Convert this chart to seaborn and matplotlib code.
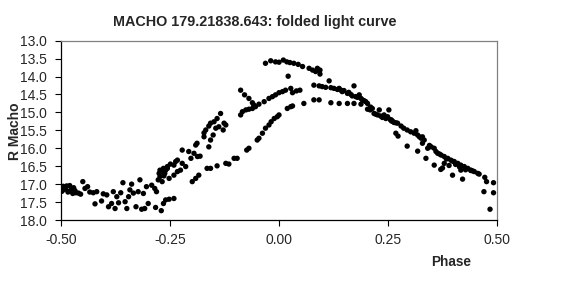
import matplotlib
matplotlib.use("Agg")
import matplotlib.pyplot as plt
import seaborn as sns
import pandas as pd

sns.set_theme(style="white")
plt.rcParams['font.family'] = ['Liberation Sans', 'DejaVu Sans']

title = "MACHO 179.21838.643: folded light curve"
x_label = "Phase"
y_label = "R Macho"
x_ticks = [-0.50, -0.25, 0.00, 0.25, 0.50]
y_ticks = [13.0, 13.5, 14.0, 14.5, 15.0, 15.5, 16.0, 16.5, 17.0, 17.5, 18.0]

# left flat region
phase_a = [-0.500, -0.498, -0.495, -0.490, -0.487, -0.484, -0.480, -0.477, -0.473, -0.471, -0.466,
           -0.460, -0.450, -0.445, -0.439, -0.434, -0.426, -0.418, -0.422, -0.407, -0.403, -0.395,
           -0.391, -0.384, -0.380, -0.376, -0.372, -0.368, -0.363, -0.358, -0.353, -0.349, -0.345,
           -0.342, -0.338, -0.334, -0.328, -0.323, -0.319, -0.315, -0.311, -0.308, -0.304, -0.300,
           -0.292, -0.285, -0.281, -0.277, -0.273, -0.269, -0.265, -0.262, -0.256, -0.497, -0.493,
           -0.482, -0.468, -0.455]
mag_a = [17.12, 17.20, 17.06, 17.14, 17.05, 17.22, 17.04, 17.16, 17.26, 17.10, 17.24,
         17.25, 16.93, 17.12, 17.07, 17.22, 17.24, 17.21, 17.55, 17.47, 17.27, 17.30,
         17.63, 17.54, 17.21, 17.68, 17.35, 17.52, 17.24, 16.96, 17.49, 17.68, 17.35,
         17.16, 17.00, 17.25, 17.63, 17.21, 16.88, 17.70, 17.26, 17.68, 17.07, 17.54,
         17.03, 17.12, 17.21, 16.88, 16.79, 16.65, 16.56, 16.70, 16.51, 17.18, 17.10,
         17.20, 17.18, 17.28]

# lower-left outliers
phase_b = [-0.265, -0.260, -0.252, -0.241, -0.270, -0.283]
mag_b = [17.54, 17.44, 17.42, 17.40, 17.74, 17.65]

# upper rising branch
phase_c = [-0.088, -0.079, -0.069, -0.061, -0.058, -0.134, -0.142, -0.149, -0.157, -0.161,
           -0.168, -0.172, -0.188, -0.191, -0.207, -0.222, -0.233, -0.237, -0.241, -0.249,
           -0.256, -0.260]
mag_c = [14.38, 14.51, 14.61, 14.73, 14.79, 15.03, 15.17, 15.26, 15.30, 15.38,
         15.49, 15.57, 15.86, 15.91, 16.09, 16.05, 16.33, 16.37, 16.47, 16.44,
         16.56, 16.61]

# scattered rising points
phase_d = [-0.126, -0.122, -0.128, -0.138, -0.145, -0.151, -0.157, -0.161, -0.172, -0.181,
           -0.187, -0.195, -0.202, -0.214, -0.222, -0.226, -0.233, -0.241, -0.252, -0.264,
           -0.268, -0.275, -0.273]
mag_d = [15.30, 15.35, 15.49, 15.40, 15.44, 15.63, 15.77, 15.96, 15.68, 16.22,
         16.23, 16.14, 16.28, 16.51, 16.42, 16.61, 16.65, 16.75, 16.84, 16.77,
         16.93, 16.70, 16.61]

# lower rising branch
phase_e = [-0.199, -0.191, -0.184, -0.165, -0.157, -0.142, -0.122, -0.115, -0.103, -0.096,
           -0.074, -0.069, -0.050, -0.046, -0.038, -0.031, -0.023, -0.018, -0.011, -0.004,
           0.000, 0.019, 0.027, 0.031, 0.057, 0.080, 0.092, 0.119, 0.138, 0.157, 0.172]
mag_e = [16.93, 16.84, 16.75, 16.56, 16.56, 16.49, 16.42, 16.44, 16.28, 16.28,
         16.05, 16.00, 15.77, 15.72, 15.58, 15.44, 15.35, 15.26, 15.17, 15.12,
         15.07, 14.89, 14.84, 14.82, 14.75, 14.65, 14.65, 14.73, 14.75, 14.75, 14.75]

# middle branch
phase_f = [-0.088, -0.084, -0.076, -0.069, -0.061, -0.054, -0.046, -0.034, -0.023, -0.015,
           -0.008, 0.000, 0.008, 0.015, 0.027, 0.031, 0.040, 0.048]
mag_f = [15.07, 14.98, 14.93, 14.91, 14.89, 14.84, 14.77, 14.70, 14.61, 14.56,
         14.51, 14.45, 14.42, 14.38, 14.33, 14.45, 14.40, 14.38]

# top arc
phase_g = [-0.031, -0.019, -0.008, 0.000, 0.010, 0.018, 0.025, 0.034, 0.044, 0.054,
           0.069, 0.077, 0.084, 0.088, 0.094, 0.094, 0.021]
mag_g = [13.63, 13.56, 13.59, 13.60, 13.54, 13.59, 13.61, 13.63, 13.66, 13.72,
         13.77, 13.82, 13.86, 13.77, 13.82, 13.93, 13.99]

# descending branch
phase_h = [0.080, 0.092, 0.099, 0.107, 0.115, 0.119, 0.126, 0.134, 0.138, 0.142,
           0.149, 0.157, 0.165, 0.172, 0.168, 0.176, 0.184, 0.188, 0.191, 0.195,
           0.199, 0.203, 0.188, 0.203, 0.209, 0.214, 0.218, 0.226, 0.230, 0.233,
           0.237, 0.241, 0.245, 0.249, 0.252, 0.255, 0.258, 0.262, 0.268, 0.272,
           0.268, 0.273, 0.286, 0.294, 0.302, 0.310, 0.314, 0.318, 0.322, 0.326,
           0.329, 0.333, 0.294, 0.318, 0.337, 0.341, 0.349, 0.356, 0.360, 0.364,
           0.372, 0.379, 0.387, 0.394, 0.402, 0.410, 0.417, 0.425, 0.433, 0.440,
           0.448, 0.456, 0.459, 0.329, 0.145, 0.160, 0.180, 0.210, 0.222, 0.258,
           0.264, 0.280, 0.345, 0.368, 0.384, 0.398, 0.405, 0.414, 0.428, 0.444]
mag_h = [14.24, 14.26, 14.28, 14.30, 14.12, 14.31, 14.33, 14.36, 14.33, 14.38,
         14.39, 14.47, 14.50, 14.26, 14.54, 14.56, 14.51, 14.61, 14.65, 14.67,
         14.70, 14.75, 14.77, 14.91, 14.93, 14.89, 15.03, 15.07, 14.93, 15.10,
         15.14, 15.07, 15.17, 15.12, 14.93, 15.20, 15.21, 15.26, 15.29, 15.30,
         15.58, 15.66, 15.44, 15.49, 15.54, 15.58, 15.51, 15.63, 15.68, 15.72,
         15.68, 15.77, 15.94, 16.08, 16.28, 16.00, 15.96, 16.00, 16.09, 16.14,
         16.19, 16.23, 16.28, 16.33, 16.37, 16.42, 16.47, 16.51, 16.56, 16.61,
         16.65, 16.70, 16.72, 15.86, 14.42, 14.44, 14.58, 14.85, 15.05, 15.24,
         15.28, 15.38, 15.92, 16.16, 16.30, 16.36, 16.45, 16.52, 16.60, 16.63]

# scattered late points
phase_i = [0.356, 0.371, 0.375, 0.398, 0.379, 0.390, 0.421, 0.417, 0.440, 0.472,
           0.476, 0.492, 0.470, 0.492, 0.484]
mag_i = [16.47, 16.59, 16.55, 16.75, 16.42, 16.48, 16.86, 16.61, 16.62, 16.81,
         16.93, 16.96, 17.21, 17.24, 17.70]

phase = phase_a + phase_b + phase_c + phase_d + phase_e + phase_f + phase_g + phase_h + phase_i
mag = mag_a + mag_b + mag_c + mag_d + mag_e + mag_f + mag_g + mag_h + mag_i
df = pd.DataFrame({"Phase": phase, "R Macho": mag})

fig = plt.figure(figsize=(5.79, 2.94), dpi=100)
ax = fig.add_axes([61/579, 1 - 220/294, 436/579, 179.3/294])
sns.scatterplot(data=df, x="Phase", y="R Macho", ax=ax, color="black",
                s=15, edgecolor="none", linewidth=0)

ax.set_xlim(-0.5, 0.5)
ax.set_ylim(18.0, 13.0)
ax.set_xticks(x_ticks)
ax.set_xticklabels([f"{t:.2f}" for t in x_ticks], fontsize=10)
ax.set_yticks(y_ticks)
ax.set_yticklabels([f"{t:.1f}" for t in y_ticks], fontsize=10)
ax.tick_params(axis="both", direction="out", length=4, width=0.8, color="black",
               left=True, bottom=True)
ax.tick_params(axis="y", pad=6)
ax.tick_params(axis="x", pad=5)
ax.set_xlabel("")
ax.set_ylabel("")
for side in ["left", "bottom"]:
    ax.spines[side].set_color("black")
    ax.spines[side].set_linewidth(0.9)
for side in ["top", "right"]:
    ax.spines[side].set_color("#808080")
    ax.spines[side].set_linewidth(0.9)

fig.text(255/579, 1 - 22/294, title, ha="center", va="center", fontsize=10.4, fontweight="bold")
fig.text(451/579, 1 - 262/294, x_label, ha="center", va="center", fontsize=9.8, fontweight="bold")
fig.text(15/579, 1 - 131/294, y_label, ha="center", va="center", rotation=90,
         fontsize=10, fontweight="bold")

fig.savefig("out.png", dpi=100, facecolor="white")
